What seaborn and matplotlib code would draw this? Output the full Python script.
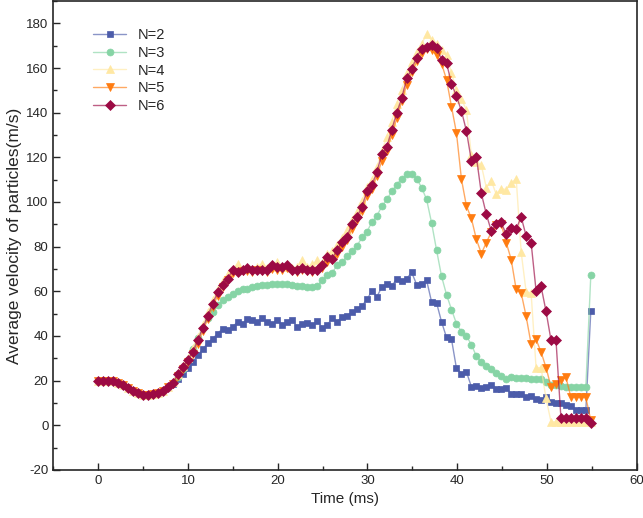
import numpy as np
import pandas as pd
import matplotlib.pyplot as plt
import seaborn as sns
from matplotlib.colors import to_rgba
from matplotlib.ticker import MultipleLocator

# time axis (ms), one sample about every 0.55 ms
time = np.linspace(0, 54.9, 100)

# shared start of every curve (first 15 samples)
start = [20, 20, 20, 19.6, 19, 18, 16.5, 15.2, 14.2, 13.6, 13.4, 13.8, 14.4, 15.5, 17]

n2 = start + [18.5, 20.5, 22.8, 25.4, 28.3, 31.3, 34, 36.8, 38.8, 41, 43.3, 42.5, 44,
              46.3, 45.5, 47.5, 47, 46.3, 47.8, 46.3, 45.2, 47.3, 44.8, 46.3, 47, 44, 45.2,
              45.8, 44.8, 46.7, 43.7, 44.8, 47.8, 46.3,
              48.5, 49, 50.5, 52, 53.5, 56.3, 60.1, 57.5,
              61.9, 63.4, 62.2, 65.7, 64.5, 65.7, 68.4, 63, 63.4, 64.9,
              55.2, 54.8, 46.3, 39.3, 38.5, 25.4, 23.1, 23.9, 17.2, 17.6,
              16.7, 17.2, 18.2, 16.4, 16.4, 16.7, 14.1, 13.8, 13.8, 12.7,
              13.1, 11.9, 11.5, 12.4, 10.4, 10, 10, 9, 8.5, 6.7, 6.7, 6.7, 51.1]

n3 = start + [19, 21.5, 25, 29, 34, 39, 43.5,
              47.8, 50.7, 53.7, 56, 57.5, 58.9, 60.2, 60.8, 61.2, 61.9, 62.3, 62.7, 63,
              63.1, 63.1, 63.4, 63.4, 63, 62.3, 62.3, 61.7, 61.7, 62.3,
              64.9, 67.2, 68.2, 71.7, 73.1, 75.7, 77.9, 80.3, 84.1, 86.6, 91, 93.7, 98.1,
              101.1, 104.8, 107.8, 110.5, 112.3, 112.3, 110.5, 106.4, 101.1, 90.6,
              78.4, 66.7, 58.5, 51.8, 45.5, 41.8, 39.9, 36.1, 30.9, 28.3, 26.4, 25.1,
              23.4, 21.9, 20.9, 21.6, 21.2, 21.2, 21, 20.9, 20.9, 20.6, 19.4, 17.9,
              17.9, 17.5, 17.2, 17.2, 17.2, 17.2, 17.2, 67.2]

n4 = start + [19.5, 23, 26.5, 30, 34.5, 39.5, 45, 50.5, 56, 61, 64.5, 67.5,
              70, 72.4, 70, 70.5, 70, 71, 72.4, 70.5, 71, 73.1, 71, 72, 70.5, 71, 73.8,
              71, 72, 73.8, 72.5,
              76.5, 78, 80.6, 84, 87.3, 92, 95.5, 100.5, 106.5, 110, 115.5, 123, 129,
              136, 144, 150, 157.8, 162.5, 167.2, 170.9,
              175.1, 172.5, 170.6, 168, 165.7, 157.8, 150, 146, 141.2, 120.9, 118,
              116.4, 106.4, 109.4, 103.4, 106, 105.5, 108.5, 110.5, 77.6, 59.7, 59.3,
              25.8, 25.8, 12, 1.5, 1.5, 1.5, 1.5, 1.5, 1.5, 1.5, 1.5, 1.5]

n5 = start + [18.5, 22, 25, 28.5, 32, 36.5, 42, 47.5, 53, 58, 62, 65,
              68, 68.5, 69, 69, 68.5, 69.5, 69, 68.5, 70, 69.5, 69.5, 70.5, 69, 68.5,
              69.5, 69, 68.5, 69, 70.5,
              73, 74, 76.5, 80, 83, 88, 92, 96, 102.5, 106, 111.5, 118.5, 123, 130,
              137.5, 145, 152.5, 158, 163, 166.5,
              168.5, 168, 166, 162, 154.8, 142.7, 130.9, 110.2, 98.2, 92.6, 83.3, 76.9,
              81.8, 86.5, 89.5, 90, 81.8, 74.2, 60.8, 59.3, 48.8, 36.3, 38.4, 32.8,
              25.8, 17.2, 18.4, 20.2, 21.6, 12.4, 12.4, 12.4, 12.4, 2.2]

n6 = start + [19, 23, 26, 29.4, 33, 38, 43.5, 49, 54.5, 59.5, 63, 65.7,
              69.4, 68.7, 69.4, 70.2, 69.4, 69.7, 69.4, 69.4, 71.7, 70.9, 70.9, 71.9,
              69.4, 69.7, 70.2, 69.7, 69.4, 69.7, 71.7, 75.4,
              74.6, 78.4, 82.1, 84.3, 90.3, 93.3, 97.8, 104.9, 107.5, 113.4, 121.4,
              124.6, 132.4, 139.9, 146.6, 155.3, 159.7, 164.7, 168.7, 169.4, 170.2,
              169.1, 163.8, 162.3, 153, 147.3, 140.8, 131.8, 118.4, 120.2, 103.8, 94.5,
              87, 90, 90.8, 85.5, 88.5, 87.8, 93.3, 84.8, 81.8,
              60.2, 62.2, 51, 38.1, 38.1, 3, 3, 3, 3, 3, 3, 0.8]

labels = ["N=2", "N=3", "N=4", "N=5", "N=6"]
series = [n2, n3, n4, n5, n6]
colors = ["#4C5CAA", "#86D4A5", "#FFE8A3", "#FF7C10", "#9C0A44"]
markers = ["s", "o", "^", "v", "D"]
msizes = [4.6, 5, 5.6, 5.4, 5.2]

sns.set_style("ticks")
plt.rcParams['font.family'] = ['Liberation Sans', 'DejaVu Sans']
plt.rcParams['axes.unicode_minus'] = False

fig = plt.figure(figsize=(6.43, 5.18), dpi=100)
ax = fig.add_axes([0.083, 0.093, 0.907, 0.905])

for lab, vals, c, m, ms in zip(labels, series, colors, markers, msizes):
    df = pd.DataFrame({"Time": time, "v": vals})
    sns.lineplot(data=df, x="Time", y="v", ax=ax, label=lab,
                 color=to_rgba(c, 0.65), linewidth=1.0,
                 marker=m, markersize=ms, markerfacecolor=c,
                 markeredgecolor=c, markeredgewidth=0.5)

ax.set_xlim(-5, 60)
ax.set_ylim(-20, 190)
ax.set_xticks(np.arange(0, 61, 10))
ax.set_yticks(np.arange(-20, 181, 20))
ax.xaxis.set_minor_locator(MultipleLocator(5))
ax.yaxis.set_minor_locator(MultipleLocator(10))
ax.tick_params(which='major', direction='in', length=5, width=1, labelsize=9.5)
ax.tick_params(which='minor', direction='in', length=3, width=1)
for sp in ax.spines.values():
    sp.set_visible(True)
    sp.set_linewidth(1.2)

ax.set_xlabel("Time (ms)", fontsize=11)
ax.set_ylabel("Average velocity of particles(m/s)", fontsize=12.5, labelpad=3)

ax.legend(loc="upper left", bbox_to_anchor=(0.045, 0.97), frameon=False,
          fontsize=10.5, handlelength=2.3, labelspacing=0.25)

fig.savefig("out.png", dpi=100)
